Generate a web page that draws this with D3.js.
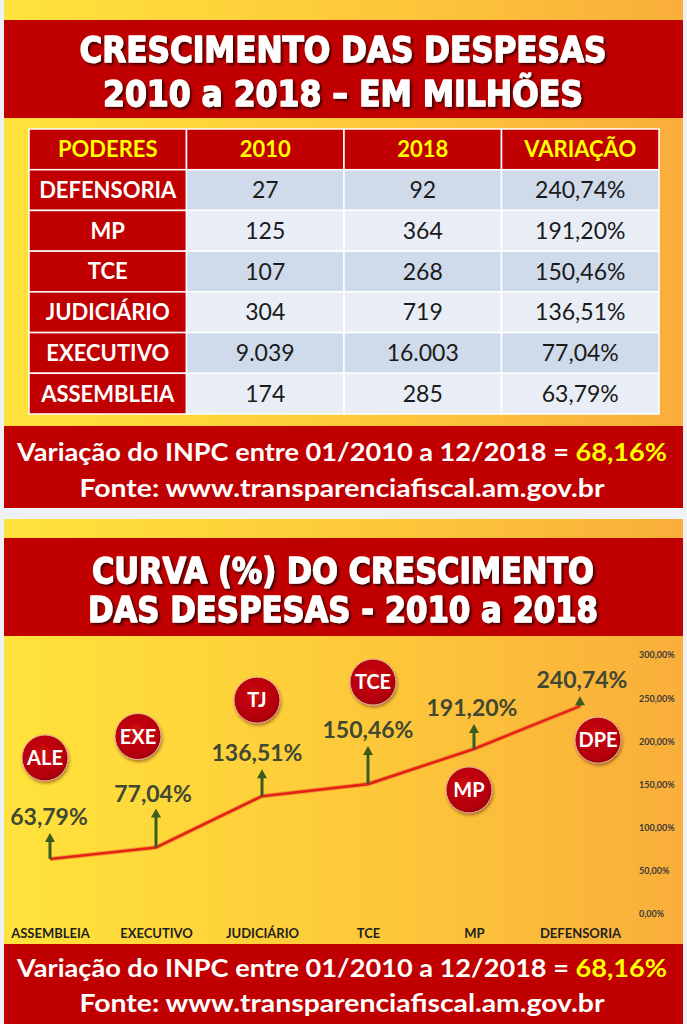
<!DOCTYPE html>
<html><head><meta charset="utf-8">
<script src="https://cdn.jsdelivr.net/npm/d3@7"></script>
<style>body{margin:0;background:#eef1f6;} svg{display:block}</style>
</head><body><svg id="c" width="687" height="1024"></svg>
<script>
// ---------- DATA ----------
const tableCols = ["PODERES", "2010", "2018", "VARIAÇÃO"];
const poderes = ["DEFENSORIA", "MP", "TCE", "JUDICIÁRIO", "EXECUTIVO", "ASSEMBLEIA"];
const desp2010 = [27, 125, 107, 304, 9039, 174];
const desp2018 = [92, 364, 268, 719, 16003, 285];
const variacao = [240.74, 191.20, 150.46, 136.51, 77.04, 63.79];

const chartCats = ["ASSEMBLEIA", "EXECUTIVO", "JUDICIÁRIO", "TCE", "MP", "DEFENSORIA"];
const chartAbbr = ["ALE", "EXE", "TJ", "TCE", "MP", "DPE"];
const chartVals = [63.79, 77.04, 136.51, 150.46, 191.20, 240.74];
const yTicks = [0, 50, 100, 150, 200, 250, 300];
const inpc = 68.16;

const title1 = ["CRESCIMENTO DAS DESPESAS", "2010 a 2018 – EM MILHÕES"];
const title2 = ["CURVA (%) DO CRESCIMENTO", "DAS DESPESAS - 2010 a 2018"];
const fonte = "Fonte: www.transparenciafiscal.am.gov.br";

// ---------- LAYOUT (annotation placement, px relative to point) ----------
const annot = [
  {arrow: 26, ldx: -1, ldy: -42, bdx: -5, bdy: -101},
  {arrow: 39, ldx: -3, ldy: -54, bdx: -18, bdy: -111},
  {arrow: 27, ldx: -5, ldy: -43, bdx: -5, bdy: -96},
  {arrow: 38, ldx: 0, ldy: -54, bdx: 5, bdy: -102},
  {arrow: 25, ldx: -2, ldy: -41, bdx: -5, bdy: 41},
  {arrow: 10, ldx: 2, ldy: -26, bdx: 18, bdy: 34}
];

const loc = d3.formatLocale({decimal: ",", thousands: ".", grouping: [3], currency: ["R$", ""]});
const fInt = loc.format(",d");
const fPct = loc.format(",.2f");

const RED = "#c00000";
const svg = d3.select("#c");
const defs = svg.append("defs");

const grad = defs.append("linearGradient").attr("id", "bg").attr("x1", 0).attr("x2", 1).attr("y1", 0).attr("y2", 0);
grad.append("stop").attr("offset", "0%").attr("stop-color", "#ffe33b");
grad.append("stop").attr("offset", "55%").attr("stop-color", "#fdc83a");
grad.append("stop").attr("offset", "100%").attr("stop-color", "#f9ae3b");

const sh = defs.append("filter").attr("id", "tsh").attr("x", "-10%").attr("y", "-20%").attr("width", "120%").attr("height", "150%");
sh.append("feDropShadow").attr("dx", 2).attr("dy", 2).attr("stdDeviation", 1).attr("flood-color", "#2a0000").attr("flood-opacity", 0.85);
const bsh = defs.append("filter").attr("id", "bsh").attr("x", "-30%").attr("y", "-30%").attr("width", "160%").attr("height", "160%");
bsh.append("feDropShadow").attr("dx", 1).attr("dy", 2).attr("stdDeviation", 1.5).attr("flood-color", "#5a2000").attr("flood-opacity", 0.5);
const bg = defs.append("radialGradient").attr("id", "bub").attr("cx", "45%").attr("cy", "40%").attr("r", "60%");
bg.append("stop").attr("offset", "0%").attr("stop-color", "#cc0a10");
bg.append("stop").attr("offset", "85%").attr("stop-color", "#b3000a");
bg.append("stop").attr("offset", "100%").attr("stop-color", "#9a0008");

// panels
svg.append("rect").attr("x", 4).attr("y", 0).attr("width", 679).attr("height", 508).attr("fill", "url(#bg)");
svg.append("rect").attr("x", 4).attr("y", 519).attr("width", 679).attr("height", 505).attr("fill", "url(#bg)");

function titleBlock(lines, y0, y1, bases, widths) {
  svg.append("rect").attr("x", 4).attr("y", y0).attr("width", 679).attr("height", y1 - y0).attr("fill", RED);
  lines.forEach((t, i) => {
    svg.append("text").attr("x", 343).attr("y", bases[i]).attr("text-anchor", "middle")
      .attr("font-family", "DejaVu Sans Condensed, DejaVu Sans").attr("font-weight", "bold").attr("font-size", 35)
      .attr("fill", "#fff").attr("stroke", "#fff").attr("stroke-width", 1.3).attr("stroke-linejoin", "round")
      .attr("filter", "url(#tsh)")
      .attr("textLength", widths[i]).attr("lengthAdjust", "spacingAndGlyphs").text(t);
  });
}
titleBlock(title1, 20, 118, [62, 106], [527, 480]);
titleBlock(title2, 538, 636, [583, 622], [502, 510]);

// ---------- TABLE ----------
const xCol = d3.scaleBand().domain(tableCols).range([29, 659]);
const yRow = d3.scaleBand().domain(["_h", ...poderes]).range([129, 414]);
const tbl = svg.append("g");
tableCols.forEach(c => {
  tbl.append("rect").attr("x", xCol(c)).attr("y", yRow("_h")).attr("width", xCol.bandwidth()).attr("height", yRow.bandwidth())
    .attr("fill", RED).attr("stroke", "#fff").attr("stroke-width", 1.5);
  tbl.append("text").attr("x", xCol(c) + xCol.bandwidth() / 2).attr("y", yRow("_h") + yRow.bandwidth() / 2)
    .attr("dy", "0.36em").attr("text-anchor", "middle").attr("font-family", "Lato").attr("font-weight", "bold")
    .attr("font-size", 22).attr("fill", "#ffff00").text(c);
});
poderes.forEach((p, i) => {
  const vals = [p, fInt(desp2010[i]), fInt(desp2018[i]), fPct(variacao[i]) + "%"];
  tableCols.forEach((c, j) => {
    const fill = j === 0 ? RED : (i % 2 === 0 ? "#cfdaeb" : "#e9eef6");
    tbl.append("rect").attr("x", xCol(c)).attr("y", yRow(p)).attr("width", xCol.bandwidth()).attr("height", yRow.bandwidth())
      .attr("fill", fill).attr("stroke", "#fff").attr("stroke-width", 1.5);
    tbl.append("text").attr("x", xCol(c) + xCol.bandwidth() / 2).attr("y", yRow(p) + yRow.bandwidth() / 2)
      .attr("dy", "0.36em").attr("text-anchor", "middle").attr("font-family", "Lato")
      .attr("font-weight", j === 0 ? "bold" : "normal").attr("font-size", j === 0 ? 22 : 23)
      .attr("fill", j === 0 ? "#fff" : "#1a1a1a").text(vals[j]);
  });
});

// ---------- INFO BANDS ----------
function infoBand(y0, y1, b1, b2) {
  svg.append("rect").attr("x", 4).attr("y", y0).attr("width", 679).attr("height", y1 - y0).attr("fill", RED);
  const t = svg.append("text").attr("x", 342).attr("y", b1).attr("text-anchor", "middle")
    .attr("font-family", "Lato").attr("font-weight", "bold").attr("font-size", 25).attr("fill", "#fff")
    .attr("textLength", 650).attr("lengthAdjust", "spacingAndGlyphs");
  t.append("tspan").text("Variação do INPC entre 01/2010 a 12/2018 = ");
  t.append("tspan").attr("fill", "#ffff00").text(fPct(inpc) + "%");
  svg.append("text").attr("x", 342).attr("y", b2).attr("text-anchor", "middle")
    .attr("font-family", "Lato").attr("font-weight", "bold").attr("font-size", 25).attr("fill", "#fff")
    .attr("textLength", 525).attr("lengthAdjust", "spacingAndGlyphs").text(fonte);
}
infoBand(426, 508, 461, 497);
infoBand(944, 1024, 977, 1012);

// ---------- CHART ----------
const x = d3.scalePoint().domain(chartCats).range([50, 580]);
const y = d3.scaleLinear().domain([0, 300]).range([914, 655]);

const yAxis = d3.axisRight(y).tickValues(yTicks).tickSize(0).tickPadding(0).tickFormat(d => fPct(d) + "%");
const ga = svg.append("g").attr("transform", "translate(639,0)").call(yAxis);
ga.select(".domain").remove();
ga.selectAll("text").attr("font-family", "Lato").attr("font-weight", "bold").attr("font-size", 9).attr("fill", "#3a3a3a");

const xAxis = d3.axisBottom(x).tickSize(0).tickPadding(0);
const gx = svg.append("g").attr("transform", "translate(0,929)").call(xAxis);
gx.select(".domain").remove();
gx.selectAll("text").attr("font-family", "Lato").attr("font-weight", "bold").attr("font-size", 13).attr("fill", "#1f1f1f");

const pts = chartCats.map((c, i) => ({c, v: chartVals[i], a: chartAbbr[i], o: annot[i]}));
const line = d3.line().x(d => x(d.c)).y(d => y(d.v));
svg.append("path").datum(pts).attr("d", line).attr("fill", "none").attr("stroke", "#f06a1a").attr("stroke-width", 4.5).attr("opacity", 0.5);
svg.append("path").datum(pts).attr("d", line).attr("fill", "none").attr("stroke", "#e3231a").attr("stroke-width", 2.6);

const g = svg.append("g");
pts.forEach(d => {
  const px = x(d.c), py = y(d.v), tip = py - d.o.arrow;
  g.append("line").attr("x1", px).attr("x2", px).attr("y1", py).attr("y2", tip + 7)
    .attr("stroke", "#3b5c1e").attr("stroke-width", 3);
  g.append("path").attr("d", `M${px - 5},${tip + 9}L${px + 5},${tip + 9}L${px},${tip}Z`).attr("fill", "#3b5c1e");
  g.append("text").attr("x", px + d.o.ldx).attr("y", py + d.o.ldy).attr("dy", "0.36em").attr("text-anchor", "middle")
    .attr("font-family", "Lato").attr("font-weight", "bold").attr("font-size", 23).attr("fill", "#414832")
    .text(fPct(d.v) + "%");
  const bx = px + d.o.bdx, by = py + d.o.bdy;
  g.append("circle").attr("cx", bx).attr("cy", by).attr("r", 23).attr("fill", "url(#bub)")
    .attr("stroke", "#e9b0a0").attr("stroke-width", 1).attr("filter", "url(#bsh)");
  g.append("text").attr("x", bx).attr("y", by).attr("dy", "0.36em").attr("text-anchor", "middle")
    .attr("font-family", "Lato").attr("font-weight", "bold").attr("font-size", 20).attr("fill", "#fff").text(d.a);
});
</script></body></html>
